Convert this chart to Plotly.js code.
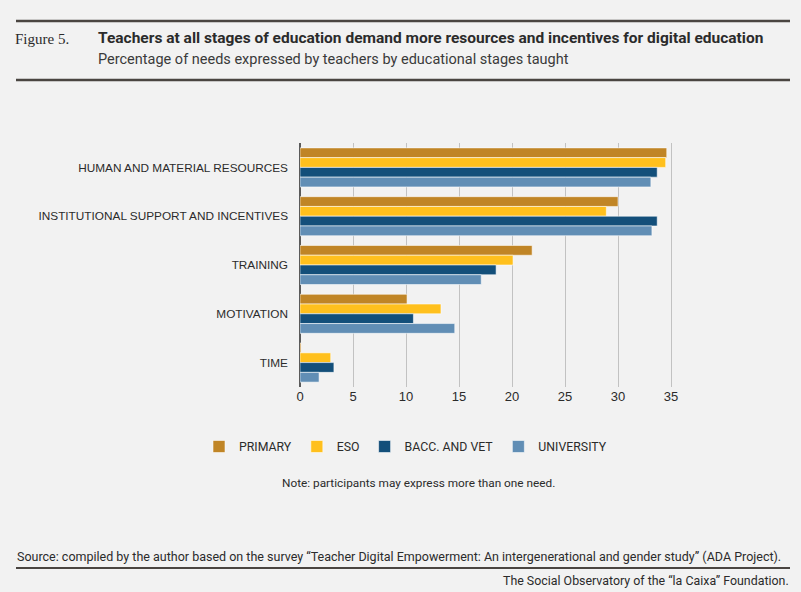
<!DOCTYPE html>
<html>
<head>
<meta charset="utf-8">
<script src="https://cdn.plot.ly/plotly-3.0.1.min.js"></script>
<style>
  html, body { margin: 0; padding: 0; background: #f2f2f2; }
  #chart { width: 801px; height: 592px; }
</style>
</head>
<body>
<div id="chart"></div>
<script>
// needs, top to bottom
const needs = [
  "HUMAN AND MATERIAL RESOURCES",
  "INSTITUTIONAL SUPPORT AND INCENTIVES",
  "TRAINING",
  "MOTIVATION",
  "TIME"
];

// % of teachers by stage taught
const primary    = [34.6, 30.0, 21.9, 10.1, 0.1];
const eso        = [34.5, 28.9, 20.1, 13.3, 2.9];
const baccVet    = [33.7, 33.7, 18.5, 10.7, 3.2];
const university = [33.1, 33.2, 17.1, 14.6, 1.8];

const stageNames  = ["PRIMARY", "ESO", "BACC. AND VET", "UNIVERSITY"];
const stageColors = ["#c08526", "#ffc01d", "#134f7a", "#618eb5"];
const xTicks = [0, 5, 10, 15, 20, 25, 30, 35];

const series = [primary, eso, baccVet, university];

const traces = series.map((vals, i) => ({
  type: 'bar',
  orientation: 'h',
  y: needs,
  x: vals,
  name: stageNames[i],
  marker: { color: stageColors[i], line: { color: 'rgba(255,255,255,0.55)', width: 1 } },
  hoverinfo: 'x+name'
}));

// margins in px, used to place the text and rules around the plot
const L = 300, R = 111, T = 143, B = 205;
const W = 801 - L - R, H = 592 - T - B;
const px = x => (x - L) / W;
const py = y => (592 - B - y) / H;

const narrow = "Roboto, Liberation Sans, sans-serif";
const txt = "#2b2b2b";

const layout = {
  width: 801,
  height: 592,
  paper_bgcolor: '#f2f2f2',
  plot_bgcolor: '#f2f2f2',
  margin: { l: L, r: R, t: T, b: B },
  barmode: 'group',
  bargap: 0.2,
  bargroupgap: 0,
  font: { family: "Liberation Sans, Arial, sans-serif", color: txt },
  xaxis: {
    range: [0, W / 10.6],
    tickvals: xTicks,
    showgrid: true,
    gridcolor: '#c2c2c2',
    gridwidth: 1,
    zeroline: true,
    zerolinecolor: '#5a5a5a',
    zerolinewidth: 1.5,
    ticks: '',
    tickfont: { size: 13, color: txt },
    fixedrange: true
  },
  yaxis: {
    type: 'category',
    autorange: 'reversed',
    ticks: '',
    showgrid: false,
    ticklabelstandoff: 11,
    tickfont: { size: 11.8, color: txt },
    fixedrange: true
  },
  showlegend: true,
  legend: {
    orientation: 'h',
    x: px(199),
    xanchor: 'left',
    y: py(432),
    yanchor: 'top',
    bgcolor: 'rgba(0,0,0,0)',
    font: { family: narrow, size: 12.3, color: txt },
    itemclick: false,
    itemdoubleclick: false
  },
  shapes: [
    { type: 'line', xref: 'paper', yref: 'paper', x0: px(16), x1: px(790), y0: py(21), y1: py(21), line: { color: '#4a4541', width: 2.5 } },
    { type: 'line', xref: 'paper', yref: 'paper', x0: px(16), x1: px(790), y0: py(80), y1: py(80), line: { color: '#4a4541', width: 2.5 } },
    { type: 'line', xref: 'paper', yref: 'paper', x0: px(16), x1: px(790), y0: py(568), y1: py(568), line: { color: '#4a4541', width: 2 } }
  ],
  annotations: [
    { xref: 'paper', yref: 'paper', x: px(13), y: py(39), xanchor: 'left', yanchor: 'middle', showarrow: false,
      text: 'Figure 5.', font: { family: 'Liberation Serif, serif', size: 15, color: txt } },
    { xref: 'paper', yref: 'paper', x: px(96), y: py(38), xanchor: 'left', yanchor: 'middle', showarrow: false,
      text: '<b>Teachers at all stages of education demand more resources and incentives for digital education</b>',
      font: { family: narrow, size: 15.5, color: txt } },
    { xref: 'paper', yref: 'paper', x: px(96), y: py(59), xanchor: 'left', yanchor: 'middle', showarrow: false,
      text: 'Percentage of needs expressed by teachers by educational stages taught',
      font: { family: narrow, size: 14.5, color: '#3a3a3a' } },
    { xref: 'paper', yref: 'paper', x: px(418), y: py(483), xanchor: 'center', yanchor: 'middle', showarrow: false,
      text: 'Note: participants may express more than one need.',
      font: { family: narrow, size: 11.8, color: txt } },
    { xref: 'paper', yref: 'paper', x: px(15), y: py(556), xanchor: 'left', yanchor: 'middle', showarrow: false,
      text: 'Source: compiled by the author based on the survey \u201cTeacher Digital Empowerment: An intergenerational and gender study\u201d (ADA Project).',
      font: { family: narrow, size: 12.5, color: txt } },
    { xref: 'paper', yref: 'paper', x: px(791), y: py(580), xanchor: 'right', yanchor: 'middle', showarrow: false,
      text: 'The Social Observatory of the \u201cla Caixa\u201d Foundation.',
      font: { family: narrow, size: 12.4, color: txt } }
  ]
};

Plotly.newPlot('chart', traces, layout, { displayModeBar: false, staticPlot: true });
</script>
</body>
</html>
